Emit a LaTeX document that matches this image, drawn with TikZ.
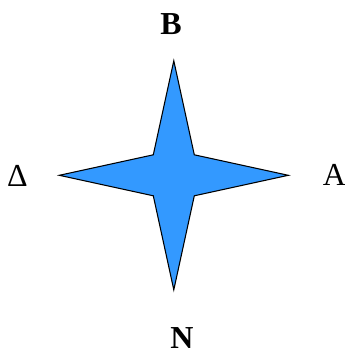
\documentclass[tikz,border=0pt]{standalone}
\usepackage{fontspec}
\setmainfont{Liberation Serif}
\usetikzlibrary{calc}

\begin{document}
\begin{tikzpicture}[
  x=0.75pt, y=-0.75pt,
  lbl/.style={inner sep=0pt, font=\fontsize{24}{28}\selectfont},
  lblb/.style={lbl, font=\fontsize{24}{28}\selectfont\bfseries},
  star/.style={draw=black, line width=0.8pt, fill=starblue, line join=miter},
]
\definecolor{starblue}{RGB}{51,153,255}
\useasboundingbox (0,0) rectangle (345,351);

% === Star ===
\coordinate (c) at (173.8,175.3);
\draw[star] ($(c)+(0,-114.5)$) -- ($(c)+(20.5,-20.5)$)
  -- ($(c)+(114.5,0)$) -- ($(c)+(20.5,20.5)$)
  -- ($(c)+(0,114.5)$) -- ($(c)+(-20.5,20.5)$)
  -- ($(c)+(-114.5,0)$) -- ($(c)+(-20.5,-20.5)$) -- cycle;

% === Labels ===
\node[lblb] (top) at (171,24) {B};
\node[lblb] (bot) at (182,338.5) {N};
\node[lbl] (lft) at (17.5,176) {Δ};
\node[lbl] (rgt) at (334.5,175) {A};

\end{tikzpicture}
\end{document}
